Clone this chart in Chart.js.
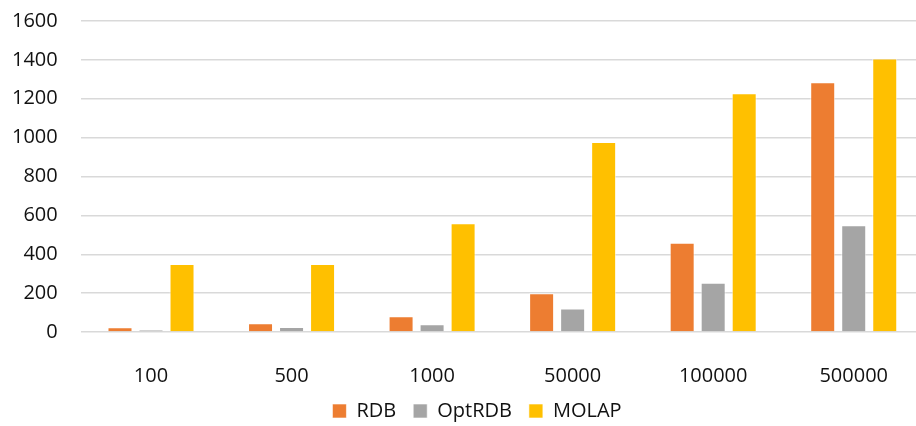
<!DOCTYPE html>
<html><head><meta charset="utf-8">
<script src="https://cdn.jsdelivr.net/npm/chart.js@4/dist/chart.umd.min.js"></script>
<style>html,body{margin:0;padding:0;background:#fff;overflow:hidden}#wrap{width:924px;height:426px}</style>
</head><body><div id="wrap"><canvas id="c"></canvas></div>
<script>
const categories = ["100", "500", "1000", "50000", "100000", "500000"];
const seriesNames = ["RDB", "OptRDB", "MOLAP"];
const rdb = [24, 45, 81, 200, 459, 1285];
const optRdb = [12, 26, 40, 121, 254, 549];
const molap = [350, 350, 559, 977, 1228, 1407];
const yTicks = [0, 200, 400, 600, 800, 1000, 1200, 1400, 1600];

const colors = ["#ED7D31", "#A5A5A5", "#FFC000"];
const FONT = "'Open Sans', sans-serif";
const shiftLegend = {
  id: 'shiftLegend',
  afterLayout(chart) { if (chart.legend) { chart.legend.left += 9; chart.legend.right += 9; } }
};
new Chart(document.getElementById('c'), {
  type: 'bar',
  plugins: [shiftLegend],
  data: {
    labels: categories,
    datasets: [rdb, optRdb, molap].map((d, i) => ({
      label: seriesNames[i], data: d, backgroundColor: colors[i],
      borderColor: 'rgba(255,255,255,0.6)', borderWidth: 1,
      categoryPercentage: 0.662, barPercentage: 0.806
    }))
  },
  options: {
    responsive: true, maintainAspectRatio: false, animation: false,
    layout: { padding: { top: 21, right: 0, left: 12, bottom: -5 } },
    plugins: {
      tooltip: { enabled: false },
      legend: {
        position: 'bottom',
        labels: { boxWidth: 14, boxHeight: 14, padding: 17, color: '#111', font: { family: FONT, size: 20 } }
      }
    },
    scales: {
      x: {
        grid: { display: false }, border: { display: false },
        afterFit: (a) => { a.height = 52; },
        ticks: { color: '#111', font: { family: FONT, size: 20 }, padding: 24 }
      },
      y: {
        min: 0, max: 1600,
        afterBuildTicks: (ax) => { ax.ticks = yTicks.map(v => ({ value: v })); },
        grid: { color: '#d9d9d9', lineWidth: 1.5, drawTicks: true, tickLength: 23, tickColor: 'rgba(0,0,0,0)' },
        border: { display: false },
        ticks: { color: '#111', font: { family: FONT, size: 20 }, padding: 0, callback: (v) => String(v) }
      }
    }
  }
});
</script></body></html>
